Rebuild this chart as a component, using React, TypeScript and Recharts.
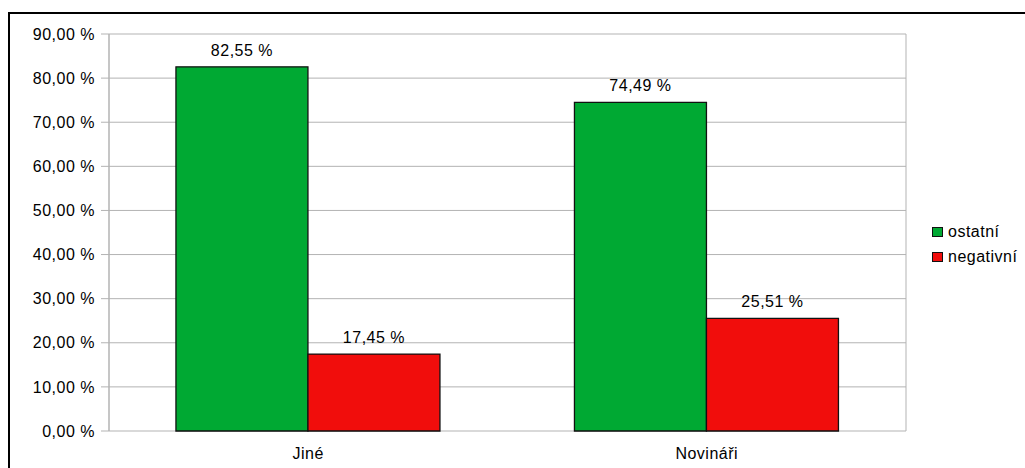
import React from 'react';
import { BarChart, Bar, XAxis, YAxis, CartesianGrid, LabelList } from 'recharts';

const categories = ['Jiné', 'Novináři'];
const ostatni = [82.55, 74.49];
const negativni = [17.45, 25.51];
const yTicks = [0, 10, 20, 30, 40, 50, 60, 70, 80, 90];
const boundaryTicks = [0, 1, 2];
const seriesNames = ['ostatní', 'negativní'];
const seriesColors = ['#00a933', '#f10d0c'];

const data = categories.map((c, i) => ({ name: c, ostatni: ostatni[i], negativni: negativni[i] }));

const fmt = (v: any) => Number(v).toFixed(2).replace('.', ',') + ' %';

const FONT = '"Liberation Sans", Arial, sans-serif';
const GRID = '#b3b3b3';

export default function App() {
  const textStyle = { fontFamily: FONT, fontSize: 16, letterSpacing: 0.5 } as React.CSSProperties;
  return (
    <div style={{ position: 'fixed', left: 0, top: 0, width: 1025, height: 468, overflow: 'hidden', background: '#fff' }}>
      <div
        style={{
          position: 'absolute',
          left: 8,
          top: 12,
          width: 1100,
          height: 600,
          border: '2px solid #000',
          boxSizing: 'border-box',
        }}
      />
      <div style={{ position: 'absolute', left: 0, top: 0 }}>
        <BarChart
          width={1025}
          height={468}
          data={data}
          margin={{ top: 34, right: 119, bottom: 7, left: 0 }}
          barCategoryGap="16.8%"
          barGap={0}
        >
          <CartesianGrid
            stroke={GRID}
            strokeWidth={1}
            verticalCoordinatesGenerator={({ offset }: any) => [offset.left, offset.left + offset.width]}
          />
          <XAxis
            xAxisId={0}
            type="number"
            domain={[0, 2]}
            ticks={boundaryTicks}
            allowDataOverflow
            tick={false}
            tickSize={7}
            height={0}
            axisLine={{ stroke: GRID }}
            tickLine={{ stroke: GRID }}
          />
          <XAxis
            xAxisId="cat"
            dataKey="name"
            height={30}
            axisLine={false}
            tickLine={false}
            tickSize={6}
            tickMargin={11}
            tick={{ fill: '#000', ...textStyle }}
          />
          <YAxis
            yAxisId={0}
            domain={[0, 90]}
            ticks={yTicks}
            width={109}
            tickSize={8}
            tickMargin={6}
            tickFormatter={fmt}
            axisLine={{ stroke: GRID }}
            tickLine={{ stroke: GRID }}
            tick={{ fill: '#000', ...textStyle }}
          />
          <YAxis
            yAxisId="r"
            orientation="right"
            domain={[0, 90]}
            width={0}
            tick={false}
            tickLine={false}
            axisLine={{ stroke: GRID }}
          />
          <Bar
            xAxisId="cat"
            yAxisId={0}
            dataKey="ostatni"
            name={seriesNames[0]}
            fill={seriesColors[0]}
            stroke="#111"
            strokeWidth={1.3}
            isAnimationActive={false}
          >
            <LabelList dataKey="ostatni" position="top" offset={11} formatter={fmt} fill="#000" style={textStyle} />
          </Bar>
          <Bar
            xAxisId="cat"
            yAxisId={0}
            dataKey="negativni"
            name={seriesNames[1]}
            fill={seriesColors[1]}
            stroke="#111"
            strokeWidth={1.3}
            isAnimationActive={false}
          >
            <LabelList dataKey="negativni" position="top" offset={11} formatter={fmt} fill="#000" style={textStyle} />
          </Bar>
        </BarChart>
      </div>
      {seriesNames.map((n, i) => (
        <div key={n} style={{ position: 'absolute', left: 932, top: 226 + i * 25, height: 12, display: 'flex', alignItems: 'center' }}>
          <div style={{ width: 11, height: 10, background: seriesColors[i], border: '1px solid #111', boxSizing: 'border-box' }} />
          <span style={{ ...textStyle, color: '#000', marginLeft: 5, lineHeight: '12px', whiteSpace: 'nowrap' }}>{n}</span>
        </div>
      ))}
    </div>
  );
}
